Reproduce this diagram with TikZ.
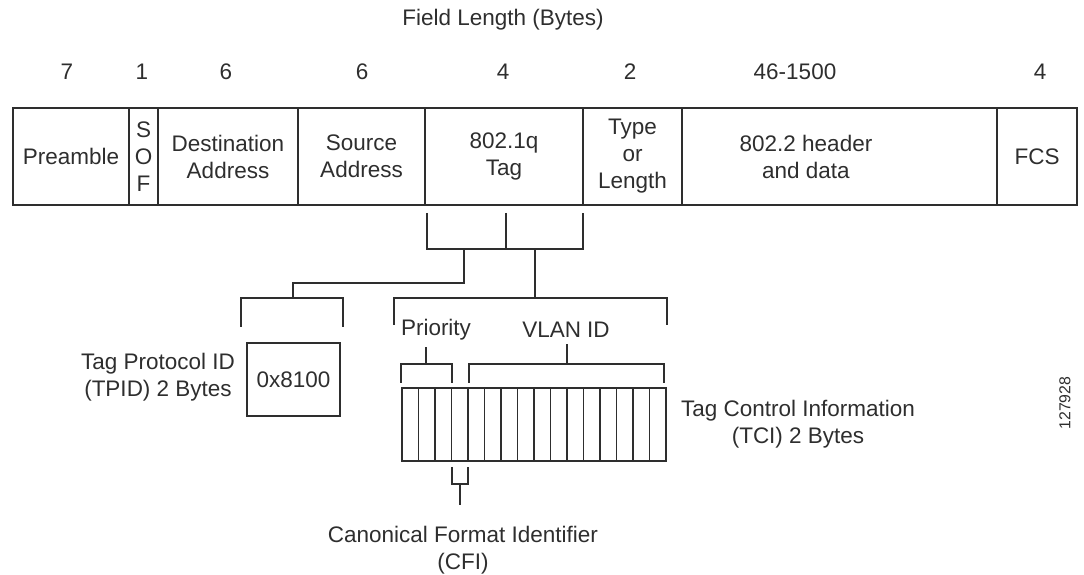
\documentclass[tikz,border=0pt]{standalone}
\usepackage{fontspec}
\setmainfont{Liberation Sans}
\definecolor{ink}{HTML}{2E2E2E}
\tikzset{
  field/.style={draw=ink, line width=1pt, inner sep=0pt, outer sep=0pt, minimum height=1.94cm, align=center},
  bit/.style={draw=ink, line width=1pt, inner sep=0pt, outer sep=0pt, minimum width=0.33cm, minimum height=1.46cm},
  wire/.style={draw=ink, line width=1pt},
}

\begin{document}
\begin{tikzpicture}[font=\fontsize{12.8}{15.4}\selectfont, text=ink]
\useasboundingbox (0,0) rectangle (21.68,-11.50);

\node (title) at (10.06,-0.40) {Field Length (Bytes)};

\node (n1) at (1.34,-1.44) {7};
\node (n2) at (2.84,-1.44) {1};
\node (n3) at (4.52,-1.44) {6};
\node (n4) at (7.24,-1.44) {6};
\node (n5) at (10.06,-1.44) {4};
\node (n6) at (12.60,-1.44) {2};
\node (n7) at (15.90,-1.44) {46-1500};
\node (n8) at (20.80,-1.44) {4};

% frame
\node[field, minimum width=2.32cm] (pre) at (1.42,-3.13) {Preamble};
\node[field, minimum width=0.58cm] (sof) at (2.87,-3.13) {S\\O\\F};
\node[field, minimum width=2.80cm] (dst) at (4.56,-3.13) {Destination\\Address};
\node[field, minimum width=2.54cm] (src) at (7.23,-3.13) {Source\\Address};
\node[field, minimum width=3.16cm] (tag) at (10.08,-3.13) {802.1q\\Tag};
\node[field, minimum width=1.98cm] (typ) at (12.65,-3.13) {Type\\or\\Length};
\node[field, minimum width=6.30cm] (dat) at (16.79,-3.13) {};
\node[align=center] (dattxt) at (16.12,-3.13) {802.2 header\\and data};
\node[field, minimum width=1.60cm] (fcs) at (20.74,-3.13) {FCS};

% split of the tag
\coordinate (ta) at (8.54,-4.26);
\coordinate (tb) at (10.12,-4.26);
\coordinate (tc) at (11.66,-4.26);
\coordinate (tj) at (10.12,-4.98);
\coordinate (tp) at (9.28,-4.98);
\draw[wire] (ta) |- (tj) -| (tc);
\draw[wire] (tb) -- (tj);

% TPID
\coordinate (pl) at (4.82,-6.54);
\coordinate (pr) at (6.86,-6.54);
\coordinate (pm) at (5.86,-5.96);
\draw[wire] (pl) |- (pm) -| (pr);
\draw[wire] (pm) -- ++(0,0.30) -| (tp);
\node[draw=ink, line width=1pt, minimum width=1.86cm, minimum height=1.46cm] (tpid) at (5.87,-7.59) {0x8100};
\node[align=center] (tpidtxt) at (3.16,-7.55) {Tag Protocol ID\\(TPID) 2 Bytes};

% TCI
\coordinate (cl) at (7.88,-6.50);
\coordinate (cr) at (13.34,-6.50);
\coordinate (cm) at (10.70,-5.96);
\draw[wire] (cl) |- (cm) -| (cr);
\draw[wire] (cm) -- (cm |- tj);

\node (prio) at (8.72,-6.60) {Priority};
\node (vlan) at (11.32,-6.60) {VLAN ID};

\coordinate (ql) at (8.02,-7.66);
\coordinate (qr) at (9.04,-7.66);
\coordinate (qm) at (8.52,-7.28);
\draw[wire] (ql) |- (qm) -| (qr);
\draw[wire] (qm) -- (qm |- prio.south);

\coordinate (vl) at (9.38,-7.66);
\coordinate (vr) at (13.28,-7.66);
\coordinate (vm) at (11.34,-7.28);
\draw[wire] (vl) |- (vm) -| (vr);
\draw[wire] (vm) -- (vm |- vlan.south);

\foreach \i in {1,...,16}
  \node[bit] (b\i) at ({7.875+0.33*\i},-8.49) {};

\node[align=center] (tcitxt) at (15.96,-8.49) {Tag Control Information\\(TCI) 2 Bytes};

% CFI
\coordinate (fl) at (9.04,-9.34);
\coordinate (fr) at (9.36,-9.34);
\coordinate (fm) at (9.20,-9.68);
\coordinate (fs) at (9.20,-10.10);
\draw[wire] (fl) |- (fm) -| (fr);
\draw[wire] (fm) -- (fs);
\node[align=center] (cfi) at (9.26,-11.00) {Canonical Format Identifier\\(CFI)};

\node[rotate=90, font=\fontsize{9}{11}\selectfont] (fig) at (21.30,-8.06) {127928};
\end{tikzpicture}
\end{document}
